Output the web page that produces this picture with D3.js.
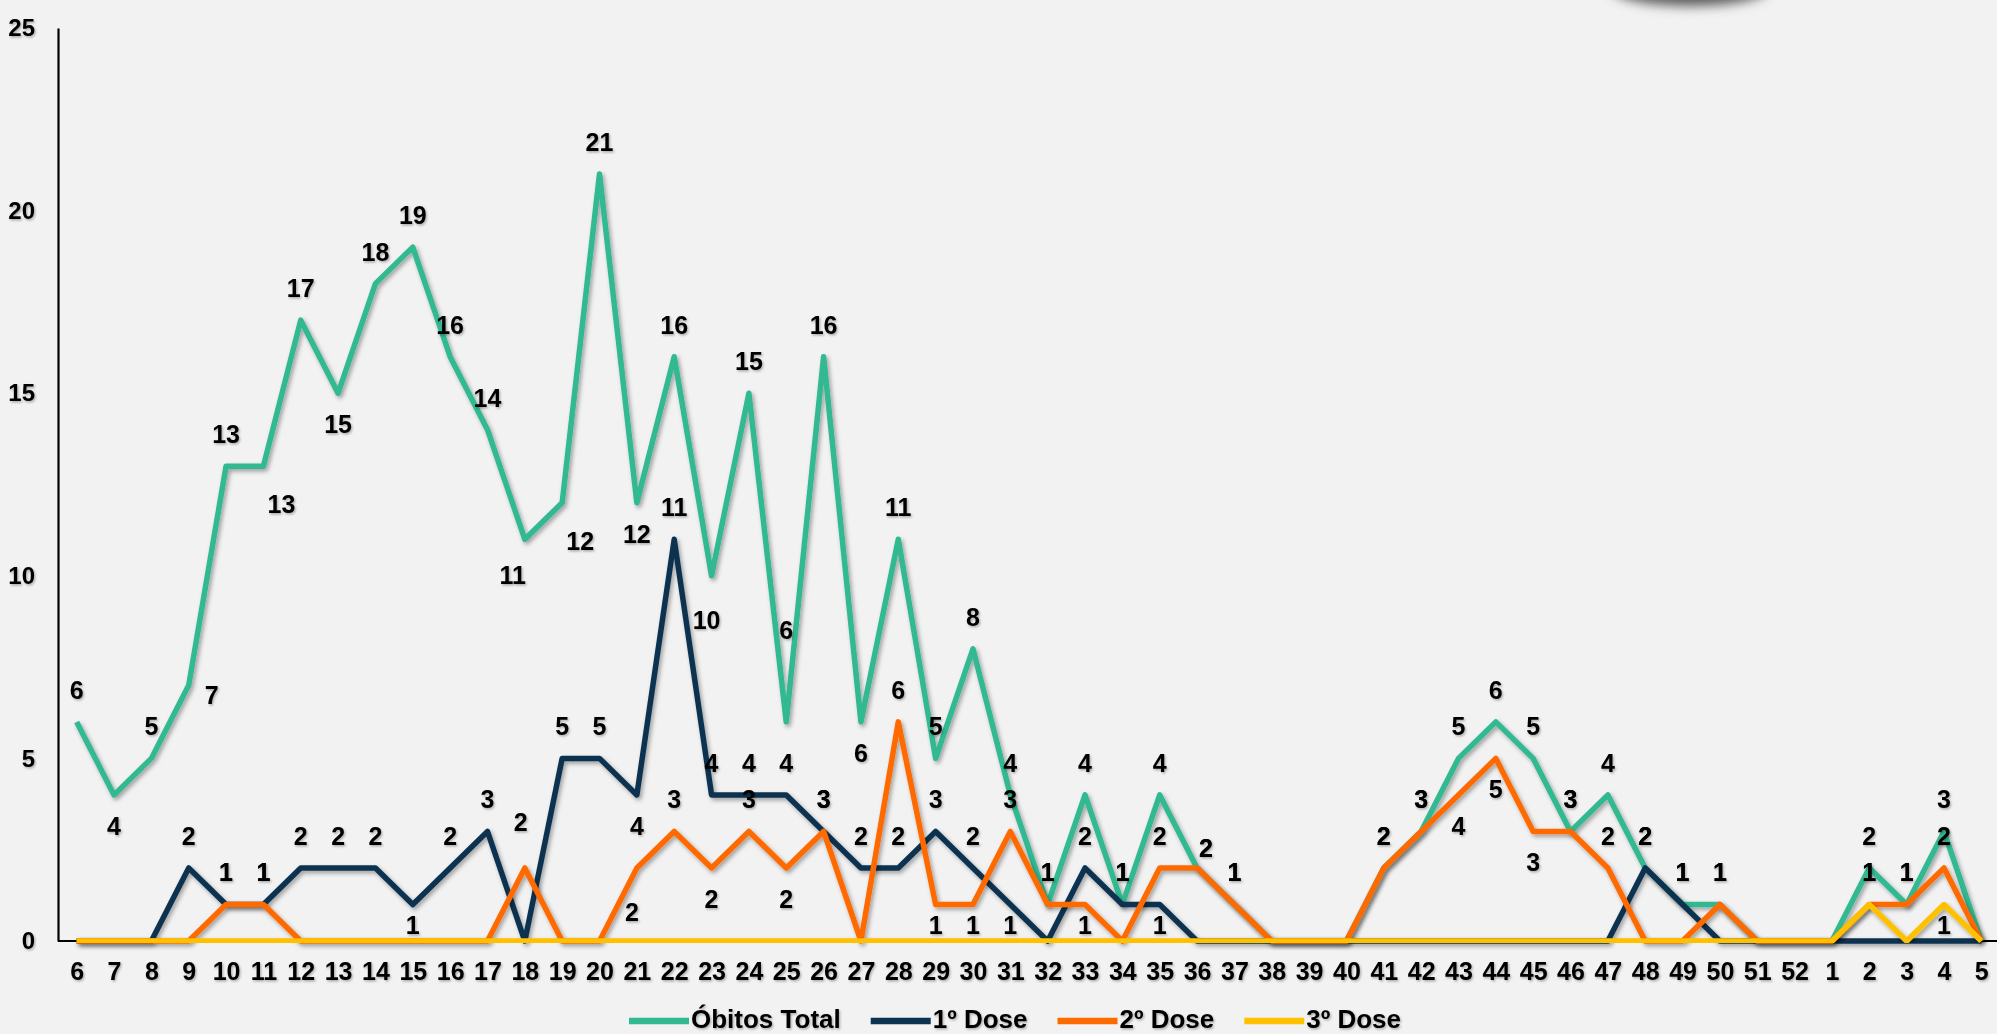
<!DOCTYPE html>
<html>
<head>
<meta charset="utf-8">
<script src="https://cdn.jsdelivr.net/npm/d3@7"></script>
<style>
  html, body { margin: 0; padding: 0; background: #f2f2f2; overflow: hidden; }
  svg { display: block; }
  text { font-family: 'Liberation Sans', Arial, sans-serif; font-weight: bold; fill: #000; }
</style>
</head>
<body>
<svg id="chart"></svg>
<script>
// week numbers (epidemiological weeks, 6..52 then 1..5 of the next year)
var weeks = [6,7,8,9,10,11,12,13,14,15,16,17,18,19,20,21,22,23,24,25,26,27,28,29,30,
             31,32,33,34,35,36,37,38,39,40,41,42,43,44,45,46,47,48,49,50,51,52,1,2,3,4,5];

var obitosTotal = [6,4,5,7,13,13,17,15,18,19,16,14,11,12,21,12,16,10,15,6,16,6,11,5,8,
                   4,1,4,1,4,2,1,0,0,0,2,3,5,6,5,3,4,2,1,1,0,0,0,2,1,3,0];
var dose1 = [0,0,0,2,1,1,2,2,2,1,2,3,0,5,5,4,11,4,4,4,3,2,2,3,2,
             1,0,2,1,1,0,0,0,0,0,0,0,0,0,0,0,0,2,1,0,0,0,0,0,0,0,0];
var dose2 = [0,0,0,0,1,1,0,0,0,0,0,0,2,0,0,2,3,2,3,2,3,0,6,1,1,
             3,1,1,0,2,2,1,0,0,0,2,3,4,5,3,3,2,0,0,1,0,0,0,1,1,2,0];
var dose3 = [0,0,0,0,0,0,0,0,0,0,0,0,0,0,0,0,0,0,0,0,0,0,0,0,0,
             0,0,0,0,0,0,0,0,0,0,0,0,0,0,0,0,0,0,0,0,0,0,0,1,0,1,0];

// where each data label sits relative to its point ('' = no label)
var posTotal = ['a','b','a','r','a','br','a','b','a','a','a','a','bl','br','a','b','a','B','a','A','a','b','a','a','a',
                'a','a','a','a','a','ar','a','','','','a','a','a','a','a','a','a','a','a','a','','','','a','a','a',''];
var posDose1 = ['','','','a','a','a','a','a','a','b1','a','a','','a','a','b','a','a','a','a','a','a','a','a','a',
                'b1','','a','a','b1','','','','','','','','','','','','','a','a','','','','','','','',''];
var posDose2 = ['','','','','a','a','','','','','','','aa','','','B','a','b','a','b','a','','a','b1','b1',
                'a','a','b1','','a','ar','a','','','','a','a','b','b','b','a','a','','','a','','','','a','a','a',''];
var posDose3 = ['','','','','','','','','','','','','','','','','','','','','','','','','',
                '','','','','','','','','','','','','','','','','','','','','','','','a','','b1',''];

var seriesNames = ['Óbitos Total', '1º Dose', '2º Dose', '3º Dose'];
var seriesColors = ['#31b992', '#0c3350', '#ff6a00', '#ffc000'];

var W = 1997, H = 1034;
var margin = { top: 28, right: -3, bottom: 93, left: 58 };

var svg = d3.select('#chart').attr('width', W).attr('height', H);

var defs = svg.append('defs');
var f = defs.append('filter').attr('id', 'lineShadow')
    .attr('x', '-5%').attr('y', '-5%').attr('width', '110%').attr('height', '110%');
f.append('feDropShadow').attr('dx', 2).attr('dy', 2.5).attr('stdDeviation', 2)
    .attr('flood-color', '#000').attr('flood-opacity', 0.35);
var ft = defs.append('filter').attr('id', 'textShadow');
ft.append('feDropShadow').attr('dx', 1.2).attr('dy', 1.5).attr('stdDeviation', 1)
    .attr('flood-color', '#000').attr('flood-opacity', 0.3);
var fb = defs.append('filter').attr('id', 'blurBig')
    .attr('x', '-50%').attr('y', '-50%').attr('width', '200%').attr('height', '200%');
fb.append('feGaussianBlur').attr('stdDeviation', 6);

// soft shadow of a round badge that sits just above the picture
svg.append('ellipse')
    .attr('cx', 1690).attr('cy', -13).attr('rx', 80).attr('ry', 19)
    .attr('fill', '#5a5a5a').attr('filter', 'url(#blurBig)');

var x = d3.scalePoint()
    .domain(d3.range(weeks.length))
    .range([margin.left, W - margin.right])
    .padding(0.5);

var y = d3.scaleLinear()
    .domain([0, 25])
    .range([H - margin.bottom, margin.top]);

// y axis
var yAxis = svg.append('g')
    .attr('transform', 'translate(' + margin.left + ',0)')
    .call(d3.axisLeft(y).tickValues([0, 5, 10, 15, 20, 25]).tickSize(0).tickPadding(23));
yAxis.select('.domain').attr('stroke', '#000').attr('stroke-width', 2.2);
yAxis.selectAll('text').style('font-size', '24px').attr('fill', '#000')
    .attr('font-family', null).attr('filter', 'url(#textShadow)');

// x axis
var xAxis = svg.append('g')
    .attr('transform', 'translate(0,' + y(0) + ')')
    .call(d3.axisBottom(x).tickSize(0).tickPadding(21).tickFormat(function (i) { return weeks[i]; }));
xAxis.select('.domain').attr('d', 'M' + margin.left + ',0H' + (W + 5))
    .attr('stroke', '#000').attr('stroke-width', 2.2);
xAxis.selectAll('text').style('font-size', '25px').attr('fill', '#000')
    .attr('font-family', null).attr('filter', 'url(#textShadow)');

var line = d3.line()
    .x(function (d, i) { return x(i); })
    .y(function (d) { return y(d); });

var allSeries = [obitosTotal, dose1, dose2, dose3];
var allPos = [posTotal, posDose1, posDose2, posDose3];

allSeries.forEach(function (s, k) {
    svg.append('path')
        .datum(s)
        .attr('d', line)
        .attr('fill', 'none')
        .attr('stroke', seriesColors[k])
        .attr('stroke-width', 5.5)
        .attr('stroke-linejoin', 'round')
        .attr('stroke-linecap', 'butt')
        .attr('filter', 'url(#lineShadow)');
});

// data labels
var offsets = {
    a: [0, -32], b: [0, 31], b1: [0, 21], r: [23, 10], br: [18, 38], bl: [-12, 36],
    ar: [9, -20], A: [0, -92], B: [-5, 44], aa: [-4, -46]
};

var labelG = svg.append('g').attr('filter', 'url(#textShadow)');
allSeries.forEach(function (s, k) {
    var pos = allPos[k];
    var pts = s.map(function (v, i) { return { v: v, i: i, p: pos[i] }; })
        .filter(function (d) { return d.p !== '' && d.v > 0; });
    labelG.selectAll(null)
        .data(pts)
        .enter().append('text')
        .attr('x', function (d) { return x(d.i) + offsets[d.p][0]; })
        .attr('y', function (d) { return y(d.v) + offsets[d.p][1]; })
        .attr('dy', '0.36em')
        .attr('text-anchor', 'middle')
        .style('font-size', '25px')
        .text(function (d) { return d.v; });
});

// legend
var legend = svg.append('g').attr('transform', 'translate(629,1021)');
var lx = 0;
seriesNames.forEach(function (name, k) {
    legend.append('line')
        .attr('x1', lx).attr('x2', lx + 60)
        .attr('y1', 0).attr('y2', 0)
        .attr('stroke', seriesColors[k])
        .attr('stroke-width', 6.5);
    var t = legend.append('text')
        .attr('x', lx + 62).attr('y', 7)
        .style('font-size', '26px')
        .attr('filter', 'url(#textShadow)')
        .text(name);
    lx += 62 + t.node().getComputedTextLength() + 30;
});
</script>
</body>
</html>
